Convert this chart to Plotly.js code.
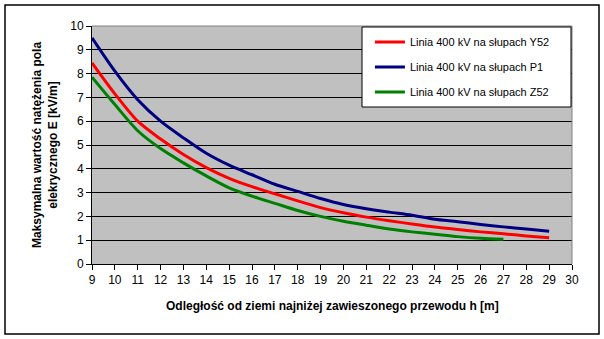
<!DOCTYPE html>
<html>
<head>
<meta charset="utf-8">
<script src="https://cdn.plot.ly/plotly-3.0.1.min.js"></script>
<style>html,body{margin:0;padding:0;background:#fff;}#chart{width:604px;height:339px;}</style>
</head>
<body>
<div id="chart"></div>
<script>
const xY52 = [9,10,11,12,13,14,15,16,17,18,19,20,21,22,23,24,25,26,27,28,29];
const eY52 = [8.45,7.15,6.0,5.25,4.6,4.05,3.6,3.25,2.95,2.65,2.37,2.15,1.97,1.82,1.68,1.55,1.45,1.35,1.27,1.18,1.1];
const xP1 = [9,10,11,12,13,14,15,16,17,18,19,20,21,22,23,24,25,26,27,28,29];
const eP1 = [9.5,8.1,6.9,6.0,5.3,4.65,4.15,3.75,3.35,3.05,2.75,2.5,2.32,2.18,2.05,1.88,1.78,1.66,1.56,1.47,1.38];
const xZ52 = [9,10,11,12,13,14,15,16,17,18,19,20,21,22,23,24,25,26,27];
const eZ52 = [7.85,6.7,5.6,4.85,4.25,3.7,3.2,2.85,2.55,2.25,2.0,1.8,1.63,1.47,1.35,1.25,1.15,1.08,1.04];
const names = ['Linia 400 kV na słupach Y52','Linia 400 kV na słupach P1','Linia 400 kV na słupach Z52'];
const colors = ['#ff0000','#000080','#008000'];
const xTicks = [9,10,11,12,13,14,15,16,17,18,19,20,21,22,23,24,25,26,27,28,29,30];
const yTicks = [0,1,2,3,4,5,6,7,8,9,10];
const xTitle = 'Odległość od ziemi najniżej zawieszonego przewodu h [m]';
const yTitle = 'Maksymalna wartość natężenia pola<br>elekrycznego E [kV/m]';

const series = [[xY52,eY52],[xP1,eP1],[xZ52,eZ52]];
const traces = series.map((s,i)=>({
  x:s[0], y:s[1], type:'scatter', mode:'lines', name:names[i],
  legendgroup:'g'+i,
  line:{color:colors[i], width:3, shape:'spline', smoothing:0.8}
}));

const font = "Arial, 'Liberation Sans', sans-serif";
const layout = {
  width:604, height:339,
  margin:{l:92, r:32, t:26, b:75},
  paper_bgcolor:'#ffffff', plot_bgcolor:'#c0c0c0',
  font:{family:font, size:12, color:'#000'},
  showlegend:true,
  legend:{x:0.579, y:0.994, xanchor:'left', yanchor:'top', bgcolor:'rgba(0,0,0,0)', borderwidth:0,
          font:{family:font, size:11, color:'#000'}, tracegroupgap:6, itemwidth:30},
  xaxis:{range:[9,30], tickvals:xTicks, ticktext:xTicks.map(String), showgrid:false, zeroline:false,
         showline:true, linecolor:'#000', linewidth:1, ticks:'outside', ticklen:5, tickcolor:'#000',
         tickfont:{family:font, size:12, color:'#000'}, fixedrange:true},
  yaxis:{range:[0,10], tickvals:yTicks, ticktext:yTicks.map(String), showgrid:true, gridcolor:'#000', gridwidth:1,
         zeroline:false, showline:true, linecolor:'#000', linewidth:1, ticks:'outside', ticklen:5, tickcolor:'#000',
         tickfont:{family:font, size:12, color:'#000'}, fixedrange:true},
  shapes:[
    {type:'line', xref:'paper', yref:'paper', x0:0, x1:1, y0:1, y1:1, line:{color:'#808080', width:1}, layer:'above'},
    {type:'line', xref:'paper', yref:'paper', x0:1, x1:1, y0:0, y1:1, line:{color:'#808080', width:1}, layer:'above'},
    {type:'rect', xref:'paper', yref:'paper', x0:(362-92)/480, x1:(571-92)/480, y0:(264-107)/238, y1:(264-27)/238,
     fillcolor:'#ffffff', line:{color:'#000', width:1}, layer:'above'},
    {type:'rect', xref:'paper', yref:'paper', x0:(5-92)/480, x1:(599-92)/480, y0:(264-334)/238, y1:(264-5)/238,
     fillcolor:'rgba(0,0,0,0)', line:{color:'#000', width:1.5}, layer:'below'}
  ],
  annotations:[
    {text:'<b>'+xTitle+'</b>', xref:'paper', yref:'paper', x:0.5, y:(264-305.5)/238, xanchor:'center', yanchor:'middle',
     showarrow:false, font:{family:font, size:12, color:'#000'}},
    {text:'<b>'+yTitle+'</b>', xref:'paper', yref:'paper', x:(45-92)/480, y:0.5, xanchor:'center', yanchor:'middle',
     textangle:-90, showarrow:false, font:{family:font, size:12, color:'#000'}}
  ]
};
Plotly.newPlot('chart', traces, layout, {displayModeBar:false, staticPlot:true});
</script>
</body>
</html>
